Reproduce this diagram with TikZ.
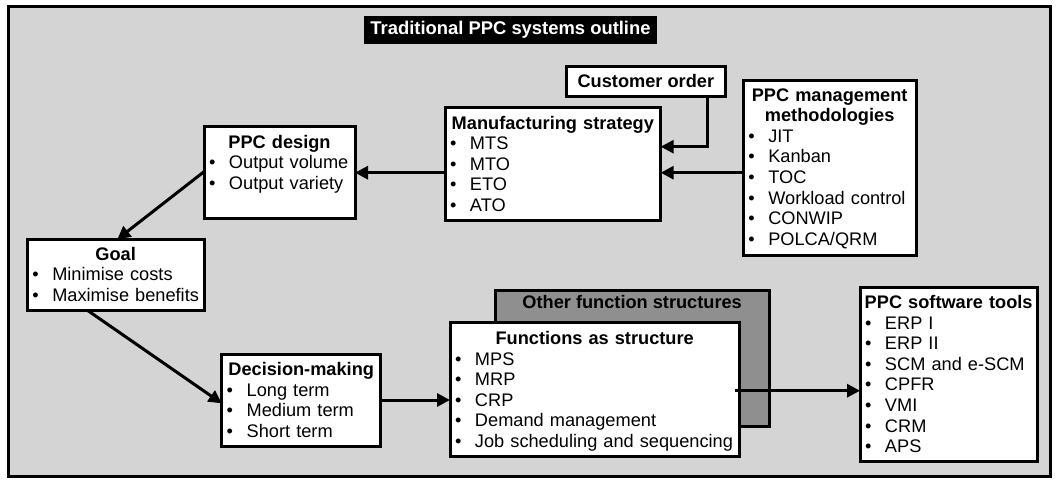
\documentclass[tikz,border=0pt]{standalone}
\usepackage{fontspec}
\setmainfont{Liberation Sans}
\usetikzlibrary{arrows.meta,fit}
\definecolor{bggray}{HTML}{D4D4D4}
\definecolor{darkbox}{HTML}{8F8F8F}
\newcommand\hd[1]{\makebox[\linewidth][c]{\bfseries #1}\par}
\newcommand\bli[1]{\makebox[20pt][l]{\textbullet}\mbox{#1}\par}
\begin{document}
\begin{tikzpicture}[x=1pt,y=-1pt,
  every node/.style={font=\fontsize{18.2}{20.6}\selectfont},
  box/.style={draw=black, line width=3pt, fill=white, inner sep=0pt, outer sep=0pt},
  txt/.style={anchor=base west, inner sep=0pt, outer sep=0pt, align=left,
    execute at begin node=\setlength{\parindent}{0pt}},
  arr/.style={line width=3pt, -{Triangle[length=13pt,width=13pt]}}]
\useasboundingbox (0,0) rectangle (1059,479);
\fill[white] (0,0) rectangle (1059,479);
% frame
\node[draw=black, line width=3pt, fill=bggray, inner sep=0pt, fit={(8,6) (1050,476.7)}] (frame) {};
% title
\node[fill=black, text=white, inner sep=0pt, fit={(364,16) (657,44)}] (title) {};
\node[inner sep=0pt, text=white, font=\fontsize{18.4}{20.6}\selectfont\bfseries] (title-t) at (title.center) {Traditional PPC systems outline};
% boxes
\node[box, fit={(566.7,66) (725,96.7)}] (co) {};
\node[inner sep=0pt, font=\fontsize{18.2}{20.6}\selectfont\bfseries] (co-t) at (co.center) {Customer order};
\node[box, fit={(445,107.3) (660.7,220.7)}] (ms) {};
\node[box, fit={(743.3,80) (916,255)}] (mgmt) {};
\node[box, fit={(204,126.7) (355,218.3)}] (pd) {};
\node[box, fit={(27.3,239.3) (204,310.7)}] (goal) {};
\node[box, fit={(221.7,354) (380.7,446.7)}] (dm) {};
\node[box, fill=darkbox, fit={(495,290) (769.3,426.7)}] (other) {};
\node[box, fit={(450,322.7) (739.3,456.7)}] (fn) {};
\node[box, fit={(860,287) (1037.3,461.7)}] (sw) {};
% texts
\node[txt, text width=141pt] (pd-t) at (209,148) {\hd{PPC design}\bli{Output volume}\bli{Output variety}};
\node[txt, text width=166.7pt] (goal-t) at (32.3,260) {\hd{Goal}\bli{Minimise costs}\bli{Maximise benefits}};
\node[txt, text width=205.7pt] (ms-t) at (450,129) {\hd{Manufacturing strategy}\bli{MTS}\bli{MTO}\bli{ETO}\bli{ATO}};
\node[txt, text width=162.7pt] (mgmt-t) at (748.3,101) {\hd{PPC management}\hd{methodologies}\bli{JIT}\bli{Kanban}\bli{TOC}\bli{Workload control}\bli{CONWIP}\bli{POLCA/QRM}};
\node[txt, text width=149pt] (dm-t) at (226.7,375.5) {\hd{Decision-making}\bli{Long term}\bli{Medium term}\bli{Short term}};
\node[anchor=base, inner sep=0pt, font=\fontsize{18.2}{20.6}\selectfont\bfseries] (other-t) at (632.15,308.5) {Other function structures};
\node[txt, text width=279.3pt] (fn-t) at (455,344.5) {\hd{Functions as structure}\bli{MPS}\bli{MRP}\bli{CRP}\bli{Demand management}\bli{Job scheduling and sequencing}};
\node[txt, text width=167.3pt] (sw-t) at (865,308.5) {\hd{PPC software tools}\bli{ERP I}\bli{ERP II}\bli{SCM and e-SCM}\bli{CPFR}\bli{VMI}\bli{CRM}\bli{APS}};
% connector helpers
\coordinate (rowA) at (0,172.7);
\coordinate (coBend) at (707.3,146.7);
\coordinate (pdOut) at (0,171.7);
\coordinate (goalIn) at (117.3,0);
\coordinate (goalOut) at (88,0);
\coordinate (dmIn) at (0,403.3);
\coordinate (rowD) at (0,400);
\coordinate (rowE) at (0,390.7);
% connectors
\draw[arr] (co.south -| coBend) |- (ms.east |- coBend);
\draw[arr] (mgmt.west |- rowA) -- (ms.east |- rowA);
\draw[arr] (ms.west |- rowA) -- (pd.east |- rowA);
\draw[arr] (pd.west |- pdOut) -- (goal.north -| goalIn);
\draw[arr] (goal.south -| goalOut) -- (dm.west |- dmIn);
\draw[arr] (dm.east |- rowD) -- (fn.west |- rowD);
\draw[arr] ([xshift=-4pt]fn.east |- rowE) -- (sw.west |- rowE);
\end{tikzpicture}
\end{document}
